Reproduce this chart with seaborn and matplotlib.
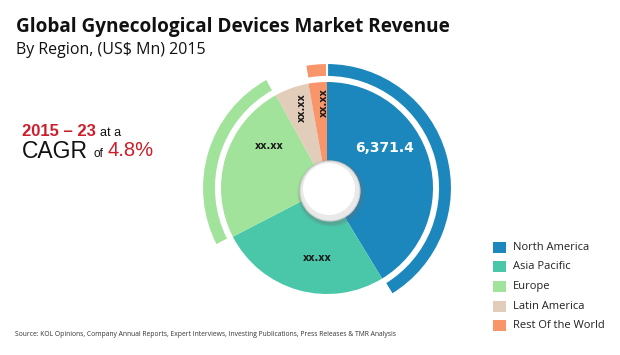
import matplotlib.pyplot as plt
import seaborn as sns
from matplotlib.patches import Circle, Rectangle

# Data
regions = ['North America', 'Asia Pacific', 'Europe', 'Latin America', 'Rest Of the World']
share = [41.3, 26.1, 24.6, 5.2, 2.8]
highlight = [True, False, True, False, True]
slice_labels = ['6,371.4', 'xx.xx', 'xx.xx', 'xx.xx', 'xx.xx']

colors = ['#1b87bd', '#4ac6a9', '#a2e39c', '#e1cdb9', '#f8956a']

sns.set_theme(style='white')
plt.rcParams['font.family'] = ['Open Sans', 'DejaVu Sans']

W, H = 620, 355
fig = plt.figure(figsize=(6.2, 3.55), dpi=100)
ax = fig.add_axes([0, 0, 1, 1])

cx, cy = 327, H - 188

# Main pie
ax.pie(share, colors=colors, startangle=90, counterclock=False,
       center=(cx, cy), radius=106, wedgeprops=dict(linewidth=0))

# Outer highlight ring
ring_colors = [c if h else 'none' for c, h in zip(colors, highlight)]
ax.pie(share, colors=ring_colors, startangle=90, counterclock=False,
       center=(cx, cy), radius=125,
       wedgeprops=dict(width=14, linewidth=1.5, edgecolor='white'))

# Centre button with a soft shadow
for r, a in [(34, 0.08), (33, 0.12), (32, 0.18)]:
    ax.add_patch(Circle((cx + 4, cy - 5), r, color='#707070', alpha=a, lw=0, zorder=5))
ax.add_patch(Circle((cx + 3, cy - 3), 30, facecolor='#e9e9e9', edgecolor='#d0d0d0', lw=0.8, zorder=6))
ax.add_patch(Circle((cx + 2, cy - 1), 26, facecolor='white', lw=0, zorder=7))

ax.set_xlim(0, W)
ax.set_ylim(0, H)
ax.set_aspect('equal')
ax.axis('off')

# Slice labels
ax.text(385, H - 148, slice_labels[0], color='white', fontsize=10, fontweight='bold',
        ha='center', va='center', family=['DejaVu Sans'])
ax.text(317, H - 258, slice_labels[1], color='#1a1a1a', fontsize=7, fontweight='bold',
        ha='center', va='center', family=['DejaVu Sans'])
ax.text(269, H - 146, slice_labels[2], color='#1a1a1a', fontsize=7, fontweight='bold',
        ha='center', va='center', family=['DejaVu Sans'])
ax.text(302, H - 108, slice_labels[3], color='#1a1a1a', fontsize=7, fontweight='bold',
        ha='center', va='center', rotation=90, family=['DejaVu Sans'])
ax.text(324, H - 103, slice_labels[4], color='#1a1a1a', fontsize=7, fontweight='bold',
        ha='center', va='center', rotation=90, family=['DejaVu Sans'])

# Titles
ax.text(16, H - 27, 'Global Gynecological Devices Market Revenue', fontsize=13.7,
        fontweight='bold', color='#111111', ha='left', va='center')
ax.text(16, H - 50, 'By Region, (US$ Mn) 2015', fontsize=11.5, color='#111111',
        ha='left', va='center')

# CAGR callout
red = '#cc1f2b'
ax.text(22, H - 132, '2015 \u2013 23', fontsize=12, fontweight='bold', color=red,
        ha='left', va='center', family=['Liberation Sans'])
ax.text(100, H - 133, 'at a', fontsize=9, color='#111111', ha='left', va='center',
        family=['Liberation Sans'])
ax.text(22, H - 151, 'CAGR', fontsize=16.5, color='#111111', ha='left', va='center',
        family=['Liberation Sans'])
ax.text(93, H - 154, 'of', fontsize=8.5, color='#111111', ha='left', va='center',
        family=['Liberation Sans'])
ax.text(107, H - 151, '4.8%', fontsize=14.5, color=red, ha='left', va='center',
        family=['Liberation Sans'])

# Legend
for i, (name, c) in enumerate(zip(regions, colors)):
    y = H - (247 + i * 19.7)
    ax.add_patch(Rectangle((493, y - 5.5), 13, 11, facecolor=c, lw=0))
    ax.text(513, y, name, fontsize=8, color='#222222', ha='left', va='center')

# Source
ax.text(15, H - 334, 'Source: KOL Opinions, Company Annual Reports, Expert Interviews, '
        'Investing Publications, Press Releases & TMR Analysis', fontsize=4.9,
        color='#333333', ha='left', va='center')

fig.savefig('out.png', dpi=100)
